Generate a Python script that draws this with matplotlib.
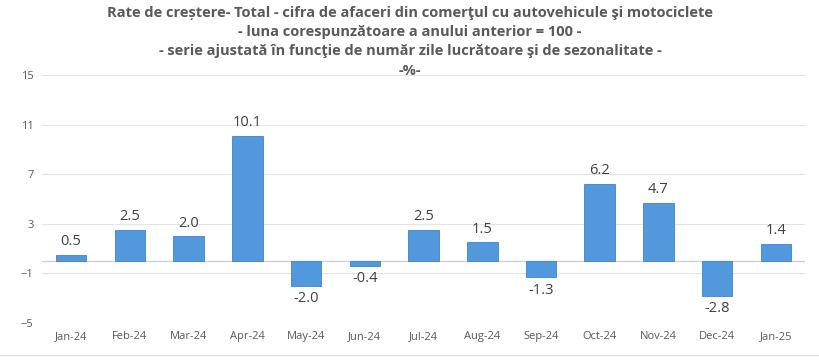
import matplotlib.pyplot as plt
import numpy as np

plt.rcParams['font.family'] = ['Open Sans', 'DejaVu Sans']

# Data
months = ['Jan-24', 'Feb-24', 'Mar-24', 'Apr-24', 'May-24', 'Jun-24', 'Jul-24',
          'Aug-24', 'Sep-24', 'Oct-24', 'Nov-24', 'Dec-24', 'Jan-25']
growth = [0.5, 2.5, 2.0, 10.1, -2.0, -0.4, 2.5, 1.5, -1.3, 6.2, 4.7, -2.8, 1.4]
yticks = [-5, -1, 3, 7, 11, 15]

title = ("Rate de creștere- Total - cifra de afaceri din comerţul cu autovehicule şi motociclete\n"
         "- luna corespunzătoare a anului anterior = 100 -\n"
         "- serie ajustată în funcţie de număr zile lucrătoare şi de sezonalitate -\n"
         "-%-")

fig = plt.figure(figsize=(8.2, 3.62), dpi=100)
ax = fig.add_axes([0.051, 0.108, 0.931, 0.685])

x = np.arange(len(months))
bars = ax.bar(x, growth, width=0.52, color='#5298dc', edgecolor='#4283c8',
              linewidth=0.6, zorder=3)

# value labels
for xi, v in zip(x, growth):
    if v >= 0:
        ax.text(xi, v + 0.45, f"{v:.1f}", ha='center', va='bottom',
                fontsize=10.5, color='#404040')
    else:
        ax.text(xi, v - 0.45, f"{v:.1f}", ha='center', va='top',
                fontsize=10.5, color='#404040')

ax.axhline(0, color='#d0d0d0', linewidth=1.0, zorder=2)

ax.set_ylim(-5, 15)
ax.set_xlim(-0.5, len(months) - 0.5)
ax.set_yticks(yticks)
ax.set_xticks(x)
ax.set_xticklabels(months)
ax.grid(axis='y', color='#e3e3e3', linewidth=0.8, zorder=0)
ax.tick_params(axis='both', length=0, labelsize=8, colors='#595959', pad=6)
for s in ax.spines.values():
    s.set_visible(False)

fig.text(0.5, 0.984, title, ha='center', va='top', fontsize=10.5,
         fontweight='bold', color='#595959', linespacing=1.48)

# thin frame line at bottom of the chart area
fig.add_artist(plt.Line2D([0.0, 1.0], [0.02, 0.02], color='#d9d9d9', linewidth=0.8))

fig.savefig('out.png', dpi=100)
